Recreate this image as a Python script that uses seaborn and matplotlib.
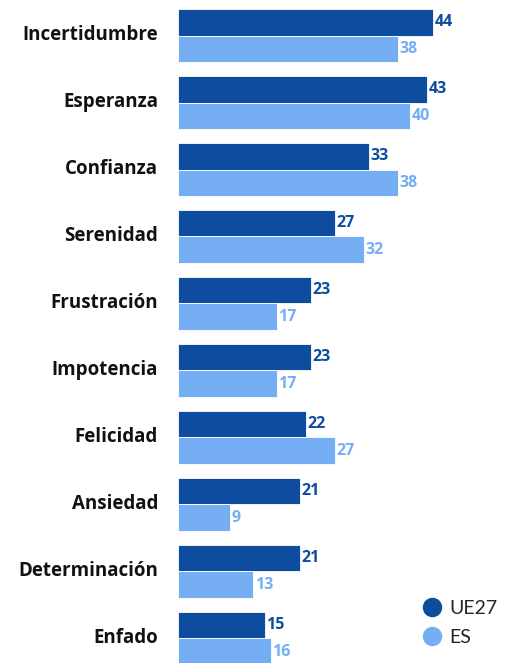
import pandas as pd
import numpy as np

import matplotlib
matplotlib.use("Agg")
import matplotlib.pyplot as plt
import matplotlib.transforms as mtransforms
from matplotlib.lines import Line2D
import seaborn as sns

########################## Data ##########################

emociones = ['Incertidumbre', 'Esperanza', 'Confianza', 'Serenidad', 'Frustración',
             'Impotencia', 'Felicidad', 'Ansiedad', 'Determinación', 'Enfado']
ue27 = [44, 43, 33, 27, 23, 23, 22, 21, 21, 15]
es = [38, 40, 38, 32, 17, 17, 27, 9, 13, 16]
series = ['UE27', 'ES']

DARK = '#0e4c9f'
LIGHT = '#76aef3'

df = pd.DataFrame({'emocion': emociones * 2,
                   'valor': ue27 + es,
                   'serie': ['UE27'] * len(ue27) + ['ES'] * len(es)})

########################## Plot ##########################

sns.set_style('white')
plt.rcParams['font.family'] = ['Lato', 'DejaVu Sans']
BOLD = ['Open Sans', 'DejaVu Sans']

fig = plt.figure(figsize=(5.15, 6.63), dpi=100)
ax = fig.add_axes([178 / 515, 0, 1 - 178 / 515, 1])

sns.barplot(data=df, y='emocion', x='valor', hue='serie', order=emociones,
            hue_order=series, palette=[DARK, LIGHT], saturation=1, width=0.8,
            edgecolor='white', linewidth=0.6, legend=False, ax=ax)

for cont, col in zip(ax.containers, [DARK, LIGHT]):
    ax.bar_label(cont, padding=1, color=col, fontsize=11.5, fontweight='bold',
                 family=BOLD)

ax.set_xlim(0, (515 - 178) / 5.8)
ax.set_ylim(9.366, -0.53)
ax.set_xlabel('')
ax.set_ylabel('')
ax.set_xticks([])
ax.tick_params(axis='y', length=0, pad=14.4)
shift = mtransforms.ScaledTranslation(0, 3 / 100, fig.dpi_scale_trans)
for lab in ax.get_yticklabels():
    lab.set_fontsize(13.5)
    lab.set_fontweight('bold')
    lab.set_family(BOLD)
    lab.set_color('#111111')
    lab.set_transform(lab.get_transform() + shift)
sns.despine(ax=ax, left=True, bottom=True)

handles = [Line2D([0], [0], marker='o', linestyle='', markersize=13,
                  markerfacecolor=c, markeredgecolor=c) for c in [DARK, LIGHT]]
fig.legend(handles, series, loc='center left', bbox_to_anchor=(403 / 515, 1 - 623 / 663),
           frameon=False, fontsize=14, handletextpad=0.3, labelspacing=0.6,
           handlelength=1.2)

fig.savefig('out.png', dpi=100)
